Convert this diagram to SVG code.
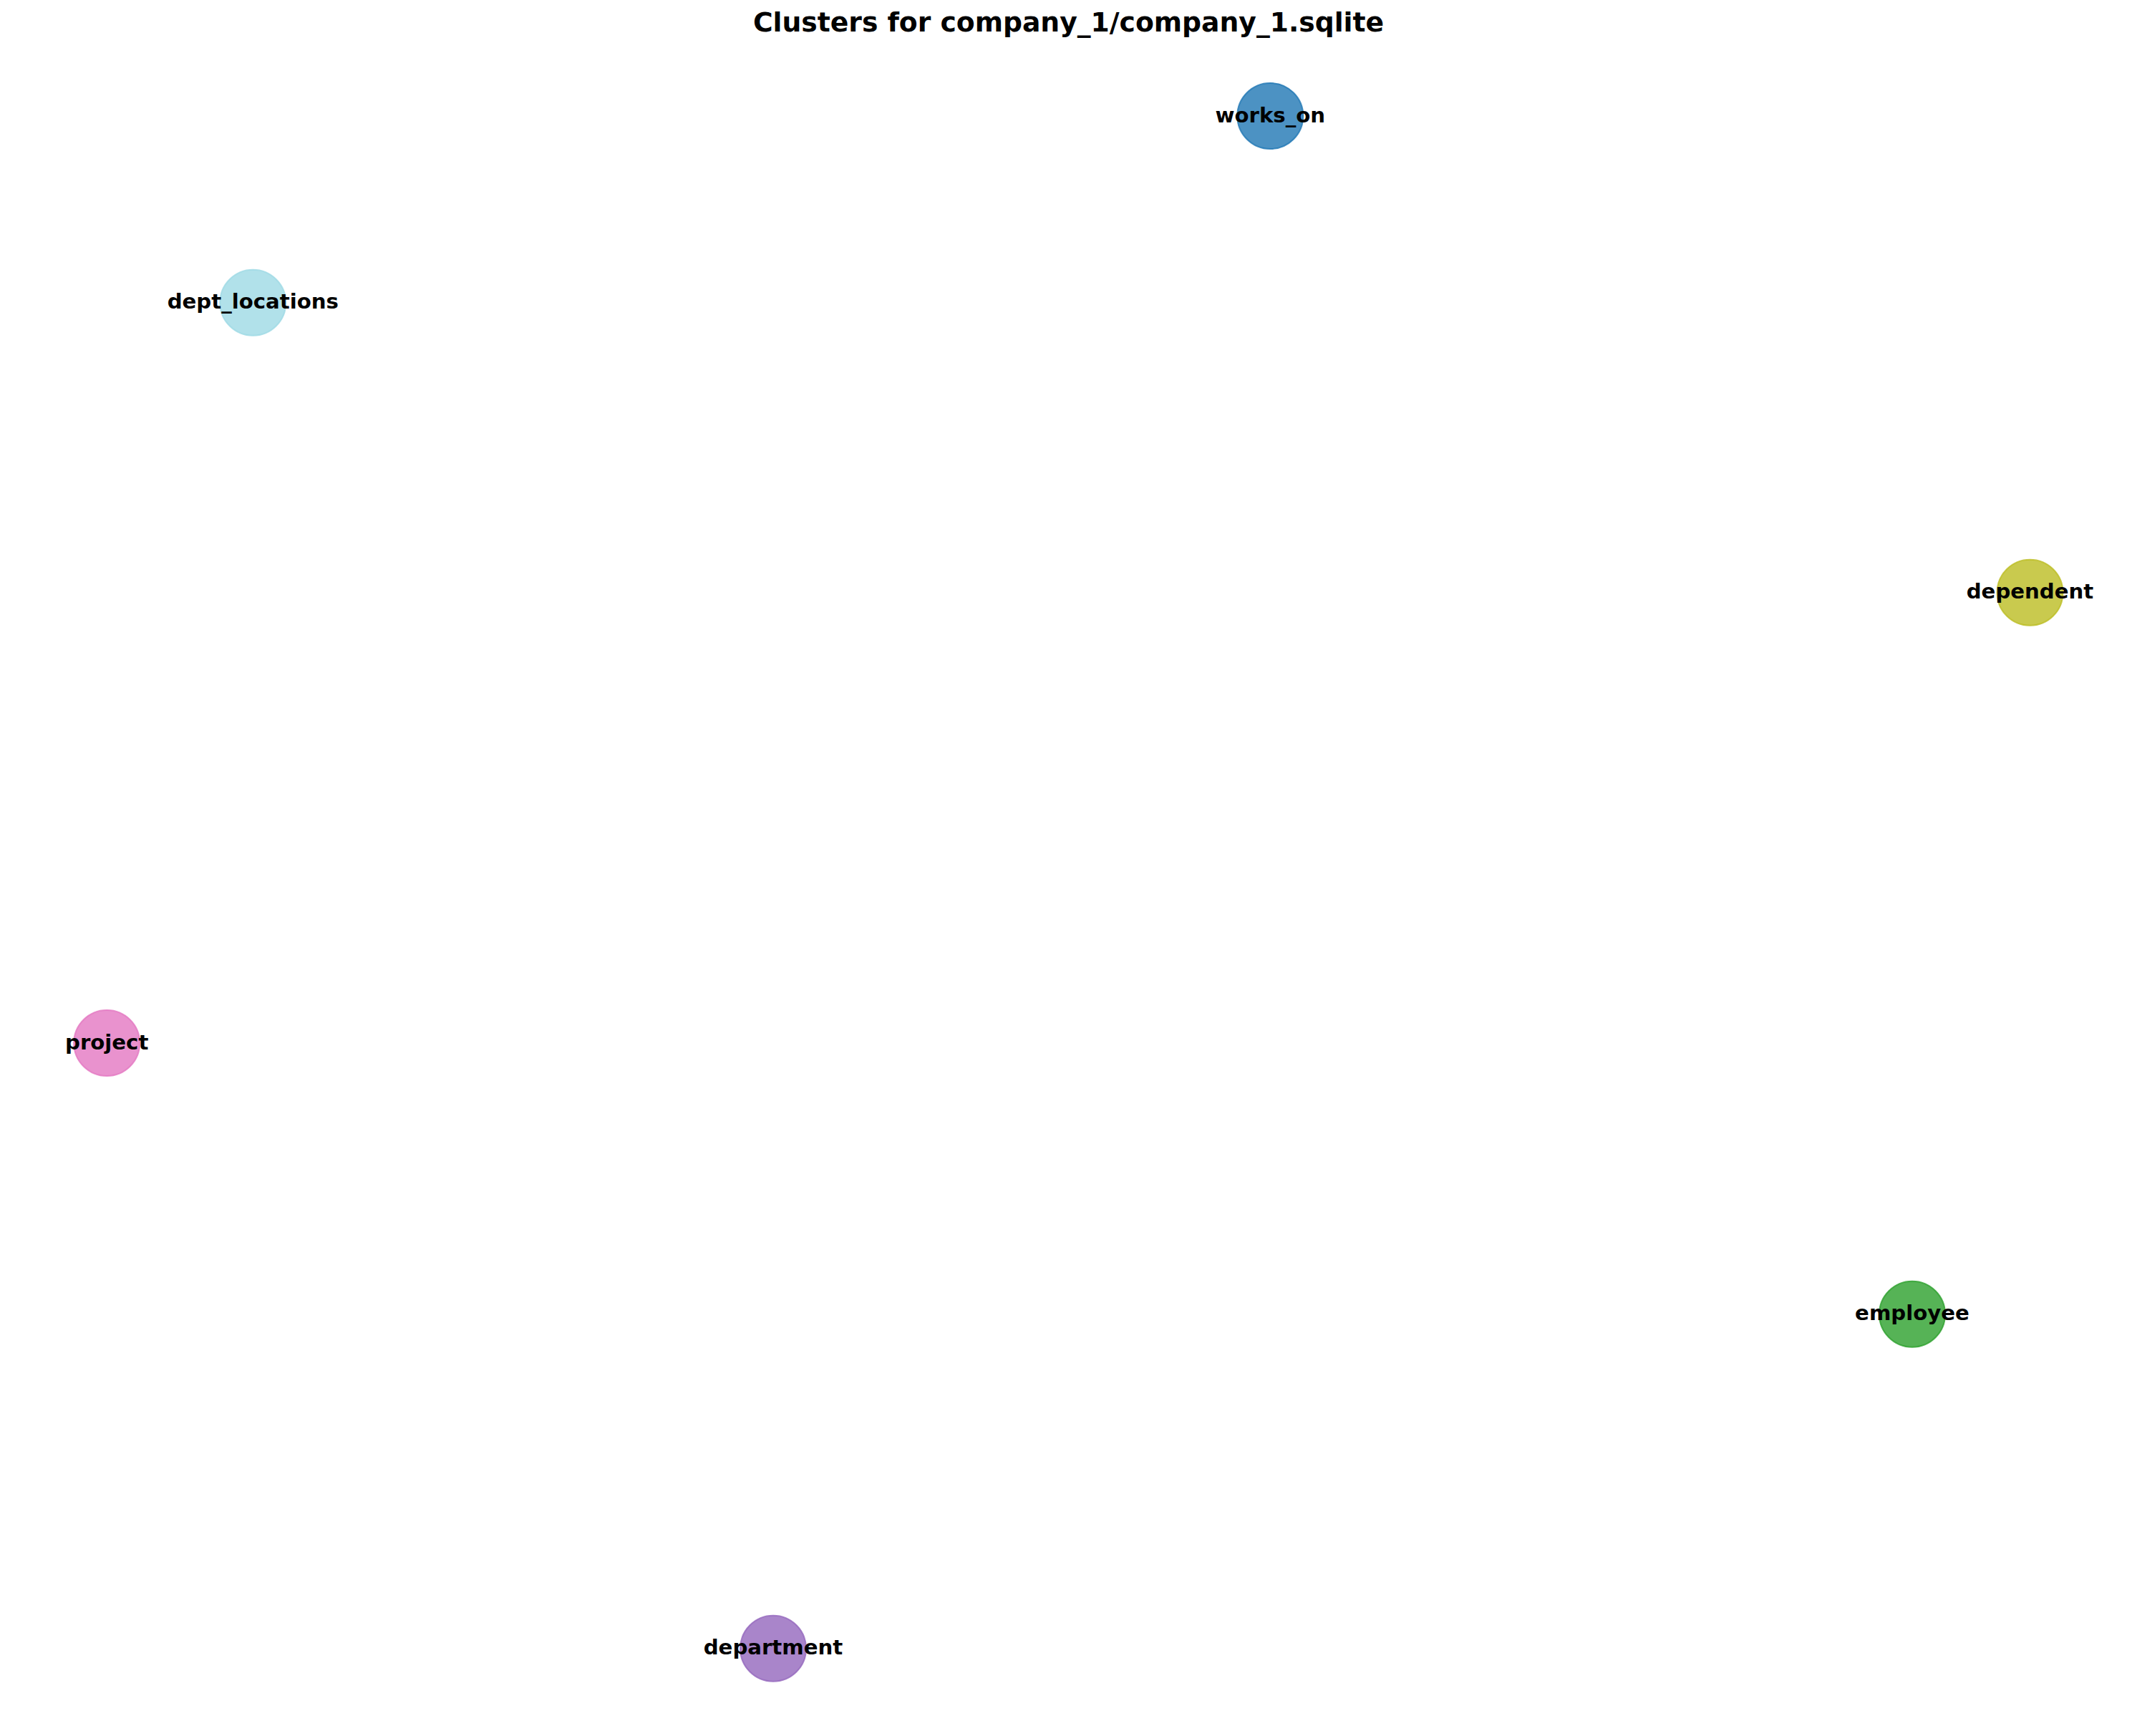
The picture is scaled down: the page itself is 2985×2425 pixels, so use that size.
<svg xmlns="http://www.w3.org/2000/svg" width="2985" height="2425" viewBox="0 0 2985 2425">
<style>
.bg{fill:#ffffff}
.node{fill-opacity:0.8;stroke-opacity:0.8;stroke-width:2}
.lbl{font-family:"DejaVu Sans","Liberation Sans",sans-serif;font-weight:bold;font-size:29.2px;fill:#000000;text-anchor:middle}
.title{font-family:"DejaVu Sans","Liberation Sans",sans-serif;font-weight:bold;font-size:37.7px;fill:#000000;text-anchor:middle}
</style>
<rect class="bg" x="0" y="0" width="2985" height="2425"/>
<text class="title" x="1492.5" y="44">Clusters for company_1/company_1.sqlite</text>
<g id="edges"></g>
<g id="works_on">
<circle class="node" cx="1774.3" cy="162" r="46" fill="#1f77b4" stroke="#1f77b4"/>
<text class="lbl" x="1774.3" y="170.5">works_on</text>
</g>
<g id="dept_locations">
<circle class="node" cx="353.3" cy="422.8" r="46" fill="#9edae5" stroke="#9edae5"/>
<text class="lbl" x="353.3" y="431.3">dept_locations</text>
</g>
<g id="dependent">
<circle class="node" cx="2835.5" cy="827.8" r="46" fill="#bcbd22" stroke="#bcbd22"/>
<text class="lbl" x="2835.5" y="836.3">dependent</text>
</g>
<g id="project">
<circle class="node" cx="149.2" cy="1457" r="46" fill="#e377c2" stroke="#e377c2"/>
<text class="lbl" x="149.2" y="1465.5">project</text>
</g>
<g id="employee">
<circle class="node" cx="2671" cy="1835.8" r="46" fill="#2ca02c" stroke="#2ca02c"/>
<text class="lbl" x="2671" y="1844.3">employee</text>
</g>
<g id="department">
<circle class="node" cx="1080" cy="2302.8" r="46" fill="#9467bd" stroke="#9467bd"/>
<text class="lbl" x="1080" y="2311.3">department</text>
</g>
</svg>
